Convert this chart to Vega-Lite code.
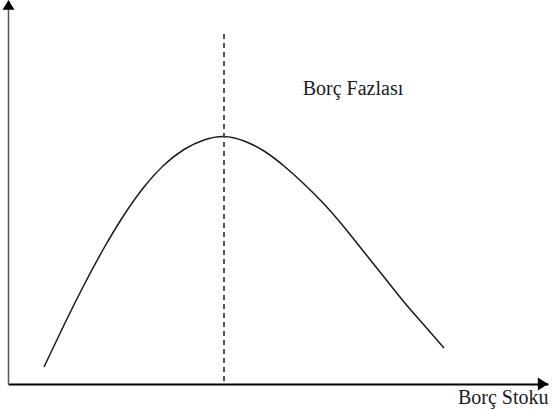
{
  "$schema": "https://vega.github.io/schema/vega-lite/v6.json",
  "width": 540,
  "height": 384,
  "autosize": {"type": "none"},
  "padding": {"left": 8, "top": 0, "right": 4, "bottom": 26},
  "background": "white",
  "config": {"view": {"stroke": null}},
  "datasets": {
    "curve": [
      {"stock": 36, "surplus": 17},
      {"stock": 56, "surplus": 59},
      {"stock": 76, "surplus": 99},
      {"stock": 96, "surplus": 136},
      {"stock": 116, "surplus": 169},
      {"stock": 136, "surplus": 197},
      {"stock": 156, "surplus": 219},
      {"stock": 176, "surplus": 234.5},
      {"stock": 196, "surplus": 244},
      {"stock": 216, "surplus": 247.5},
      {"stock": 236, "surplus": 243},
      {"stock": 256, "surplus": 233},
      {"stock": 276, "surplus": 218},
      {"stock": 296, "surplus": 200},
      {"stock": 316, "surplus": 180},
      {"stock": 336, "surplus": 157},
      {"stock": 356, "surplus": 132},
      {"stock": 376, "surplus": 107},
      {"stock": 396, "surplus": 82},
      {"stock": 416, "surplus": 59},
      {"stock": 436, "surplus": 36}
    ],
    "peak": [{"stock": 216, "low": 3, "high": 352}],
    "labels": [{"label": "Borç Fazlası", "stock": 345, "surplus": 289}],
    "xarrow": [{"stock": 535, "surplus": 0}],
    "yarrow": [{"stock": 0.5, "surplus": 379}]
  },
  "layer": [
    {
      "data": {"name": "curve"},
      "mark": {"type": "line", "interpolate": "natural", "color": "#1a1a1a", "strokeWidth": 1.5},
      "encoding": {
        "x": {
          "field": "stock", "type": "quantitative",
          "scale": {"domain": [0, 540], "nice": false, "zero": false},
          "axis": {
            "domain": true, "domainColor": "#000000", "domainWidth": 2,
            "ticks": false, "labels": false, "grid": false,
            "title": "Borç Stoku", "titleFont": "Liberation Serif, Times New Roman, DejaVu Serif, serif", "titleFontSize": 20,
            "titleFontWeight": "normal", "titleColor": "#1a1a2a",
            "titleAlign": "right", "titleBaseline": "alphabetic",
            "titleX": 540, "titleY": 19
          }
        },
        "y": {
          "field": "surplus", "type": "quantitative",
          "scale": {"domain": [0, 384], "nice": false, "zero": false},
          "axis": {
            "domain": true, "domainColor": "#555555", "domainWidth": 1.5,
            "ticks": false, "labels": false, "grid": false, "title": null
          }
        }
      }
    },
    {
      "data": {"name": "peak"},
      "mark": {"type": "rule", "color": "#555555", "strokeWidth": 2, "strokeDash": [5, 4]},
      "encoding": {
        "x": {"field": "stock", "type": "quantitative"},
        "y": {"field": "low", "type": "quantitative"},
        "y2": {"field": "high"}
      }
    },
    {
      "data": {"name": "labels"},
      "mark": {"type": "text", "font": "Liberation Serif, Times New Roman, DejaVu Serif, serif", "fontSize": 20, "color": "#1a1a2a", "align": "center", "baseline": "alphabetic"},
      "encoding": {
        "x": {"field": "stock", "type": "quantitative"},
        "y": {"field": "surplus", "type": "quantitative"},
        "text": {"field": "label"}
      }
    },
    {
      "data": {"name": "xarrow"},
      "mark": {"type": "point", "shape": "M-0.8,-1L0.8,0L-0.8,1Z", "size": 169, "filled": true, "color": "#000000", "opacity": 1},
      "encoding": {
        "x": {"field": "stock", "type": "quantitative"},
        "y": {"field": "surplus", "type": "quantitative"}
      }
    },
    {
      "data": {"name": "yarrow"},
      "mark": {"type": "point", "shape": "M-1,0.8L0,-0.8L1,0.8Z", "size": 144, "filled": true, "color": "#000000", "opacity": 1},
      "encoding": {
        "x": {"field": "stock", "type": "quantitative"},
        "y": {"field": "surplus", "type": "quantitative"}
      }
    }
  ]
}
